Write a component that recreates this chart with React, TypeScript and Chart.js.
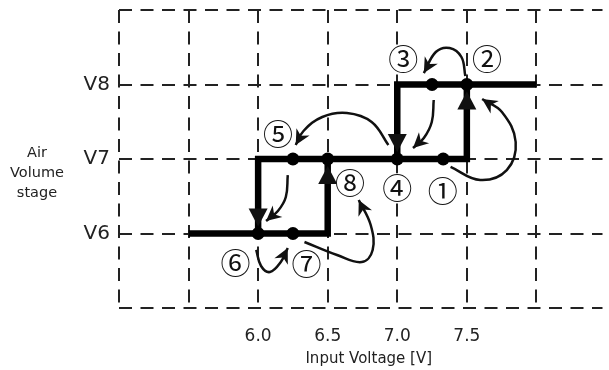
import React, { useEffect, useRef } from 'react';
import { Chart, registerables } from 'chart.js';

Chart.register(...registerables);

// ---- axes ----
const xGridValues = [5.0, 5.5, 6.0, 6.5, 7.0, 7.5, 8.0];
const xTickValues = [6.0, 6.5, 7.0, 7.5];
const xTickLabels = ['6.0', '6.5', '7.0', '7.5'];
const yGridValues = [5, 6, 7, 8, 9];
const yTickValues = [6, 7, 8];
const yTickLabels = ['V6', 'V7', 'V8'];
const xTitle = 'Input Voltage [V]';
const yTitleLines = ['Air', 'Volume', 'stage'];

// ---- thick step paths (x = voltage, y = stage) ----
const lowerPathX = [5.5, 6.5, 6.5];
const lowerPathY = [6, 6, 7];
const middlePathX = [6.0, 6.0, 7.5, 7.5];
const middlePathY = [6, 7, 7, 8];
const upperPathX = [7.0, 7.0, 8.0];
const upperPathY = [7, 8, 8];

// arrow heads on the step path: [fromX, fromY, toX, toY]
const stepArrows = [
  [6.5, 6, 6.5, 7],
  [6.0, 7, 6.0, 6],
  [7.0, 8, 7.0, 7],
  [7.5, 7, 7.5, 8],
];

// ---- state dots ----
const dotX = [7.25, 7.5, 6.25, 6.5, 7.0, 7.33, 6.0, 6.25];
const dotY = [8, 8, 7, 7, 7, 7, 6, 6];

// ---- curved transition arrows ----
const curve1X = [7.383, 7.596, 7.787, 7.851, 7.752, 7.61];
const curve1Y = [6.893, 6.718, 6.852, 7.228, 7.631, 7.805];
const curve2X = [7.489, 7.461, 7.376, 7.277, 7.191];
const curve2Y = [8.114, 8.369, 8.49, 8.436, 8.154];
const curve3X = [7.262, 7.248, 7.191, 7.113];
const curve3Y = [7.792, 7.497, 7.282, 7.148];
const curve4X = [6.936, 6.816, 6.638, 6.461, 6.326, 6.27];
const curve4Y = [7.188, 7.497, 7.617, 7.564, 7.376, 7.188];
const curve5X = [6.213, 6.199, 6.142, 6.057];
const curve5Y = [6.785, 6.49, 6.302, 6.168];
const curve6X = [5.986, 6.021, 6.085, 6.163, 6.213];
const curve6Y = [5.779, 5.564, 5.483, 5.617, 5.805];
const curve7X = [6.333, 6.567, 6.745, 6.823, 6.809, 6.723];
const curve7Y = [5.886, 5.711, 5.617, 5.779, 6.114, 6.45];

// ---- circled step numbers ----
const stepLabels = ['①', '②', '③', '④', '⑤', '⑥', '⑦', '⑧'];
const stepLabelX = [7.326, 7.645, 7.043, 7.0, 6.142, 5.837, 6.348, 6.66];
const stepLabelY = [6.584, 8.356, 8.356, 6.624, 7.349, 5.617, 5.604, 6.691];

const toPts = (xs: number[], ys: number[]) => xs.map((x, i) => ({ x, y: ys[i] }));
const near = (a: number, b: number) => Math.abs(a - b) < 1e-6;

const INK = '#111';
const GRID = '#222';
const FONT = 'DejaVu Sans';

function drawHead(ctx: CanvasRenderingContext2D, tx: number, ty: number, ang: number, len: number, half: number, notch: number) {
  ctx.save();
  ctx.translate(tx, ty);
  ctx.rotate(ang);
  ctx.beginPath();
  ctx.moveTo(0, 0);
  ctx.lineTo(-len, -half);
  ctx.lineTo(-len + notch, 0);
  ctx.lineTo(-len, half);
  ctx.closePath();
  ctx.fillStyle = INK;
  ctx.fill();
  ctx.restore();
}

const overlayPlugin = {
  id: 'overlay',
  afterDatasetsDraw(chart: any) {
    const ctx: CanvasRenderingContext2D = chart.ctx;
    const xs = chart.scales.x;
    const ys = chart.scales.y;
    // thick arrow heads
    for (const [x0, y0, x1, y1] of stepArrows) {
      const px0 = xs.getPixelForValue(x0), py0 = ys.getPixelForValue(y0);
      const px1 = xs.getPixelForValue(x1), py1 = ys.getPixelForValue(y1);
      const ang = Math.atan2(py1 - py0, px1 - px0);
      const tx = px1 - Math.cos(ang) * 7;
      const ty = py1 - Math.sin(ang) * 7;
      drawHead(ctx, tx, ty, ang, 18, 9.5, 0);
    }
    // thin curve arrow heads
    chart.data.datasets.forEach((ds: any, i: number) => {
      if (!ds.isCurve) return;
      const pts = chart.getDatasetMeta(i).data;
      const last = pts[pts.length - 1];
      let cx = last.cp1x, cy = last.cp1y;
      if (cx === undefined || Math.hypot(last.x - cx, last.y - cy) < 0.5) {
        cx = pts[pts.length - 2].x;
        cy = pts[pts.length - 2].y;
      }
      const ang = Math.atan2(last.y - cy, last.x - cx);
      drawHead(ctx, last.x, last.y, ang, 15, 7.5, 4.5);
    });
    // circled numbers
    ctx.save();
    ctx.textAlign = 'center';
    ctx.textBaseline = 'middle';
    stepLabels.forEach((t, i) => {
      const px = xs.getPixelForValue(stepLabelX[i]);
      const py = ys.getPixelForValue(stepLabelY[i]);
      ctx.beginPath();
      ctx.arc(px, py, 13.5, 0, Math.PI * 2);
      ctx.fillStyle = '#fff';
      ctx.fill();
      ctx.fillStyle = INK;
      ctx.font = `30px "Noto Sans CJK JP"`;
      ctx.fillText(t, px, py + 1);
    });
    ctx.restore();
  },
  afterDraw(chart: any) {
    const ctx: CanvasRenderingContext2D = chart.ctx;
    const area = chart.chartArea;
    ctx.save();
    ctx.fillStyle = GRID;
    ctx.textAlign = 'center';
    ctx.textBaseline = 'middle';
    ctx.font = `15px "${FONT}"`;
    ctx.fillText(xTitle, (area.left + area.right) / 2 + 8, 359);
    ctx.font = `14.5px "${FONT}"`;
    yTitleLines.forEach((l, i) => ctx.fillText(l, 37, 153 + i * 20));
    ctx.restore();
  },
};

export default function App() {
  const ref = useRef<HTMLCanvasElement>(null);
  useEffect(() => {
    document.body.style.margin = '0';
    const canvas = ref.current!;
    const thick = (xs: number[], ys: number[]) => ({
      type: 'line',
      data: toPts(xs, ys),
      borderColor: '#000',
      borderWidth: 6.5,
      borderJoinStyle: 'miter',
      borderCapStyle: 'butt',
      pointRadius: 0,
      tension: 0,
      fill: false,
    });
    const curve = (xs: number[], ys: number[]) => ({
      type: 'line',
      data: toPts(xs, ys),
      borderColor: INK,
      borderWidth: 2.5,
      pointRadius: 0,
      tension: 0.4,
      fill: false,
      isCurve: true,
    });
    const chart = new Chart(canvas, {
      type: 'line',
      data: {
        datasets: [
          curve(curve1X, curve1Y),
          curve(curve2X, curve2Y),
          curve(curve3X, curve3Y),
          curve(curve4X, curve4Y),
          curve(curve5X, curve5Y),
          curve(curve6X, curve6Y),
          curve(curve7X, curve7Y),
          thick(lowerPathX, lowerPathY),
          thick(middlePathX, middlePathY),
          thick(upperPathX, upperPathY),
          {
            type: 'scatter',
            data: toPts(dotX, dotY),
            pointRadius: 6.5,
            pointBackgroundColor: '#000',
            pointBorderWidth: 0,
            showLine: false,
          } as any,
        ] as any,
      },
      options: {
        animation: false,
        responsive: false,
        maintainAspectRatio: false,
        layout: { padding: { top: 10, left: 0, right: 0, bottom: 0 } },
        plugins: { legend: { display: false }, tooltip: { enabled: false } },
        scales: {
          x: {
            type: 'linear',
            min: 5,
            max: 8.475,
            afterBuildTicks: (s: any) => {
              s.ticks = xGridValues.map((v) => ({ value: v }));
            },
            afterFit: (s: any) => {
              s.height = 62;
              s.paddingLeft = 0;
              s.paddingRight = 0;
            },
            grid: { color: GRID, lineWidth: 2, drawTicks: false },
            border: { display: false, dash: [13, 8.5] },
            ticks: {
              autoSkip: false,
              maxRotation: 0,
              padding: 18,
              color: GRID,
              font: { family: FONT, size: 17 },
              callback: (v: any) => {
                const i = xTickValues.findIndex((t) => near(t, Number(v)));
                return i >= 0 ? xTickLabels[i] : '';
              },
            },
          },
          y: {
            type: 'linear',
            min: 5,
            max: 9,
            afterBuildTicks: (s: any) => {
              s.ticks = yGridValues.map((v) => ({ value: v }));
            },
            afterFit: (s: any) => {
              s.width = 119;
              s.paddingTop = 0;
              s.paddingBottom = 0;
            },
            grid: { color: GRID, lineWidth: 2, drawTicks: false },
            border: { display: false, dash: [13, 8.5] },
            ticks: {
              autoSkip: false,
              padding: 9,
              color: GRID,
              font: { family: FONT, size: 20 },
              callback: (v: any) => {
                const i = yTickValues.findIndex((t) => near(t, Number(v)));
                return i >= 0 ? yTickLabels[i] : '';
              },
            },
          },
        },
      } as any,
      plugins: [overlayPlugin],
    });
    return () => chart.destroy();
  }, []);
  return (
    <div style={{ width: 609, height: 370 }}>
      <canvas ref={ref} width={609} height={370} style={{ display: 'block' }} />
    </div>
  );
}
